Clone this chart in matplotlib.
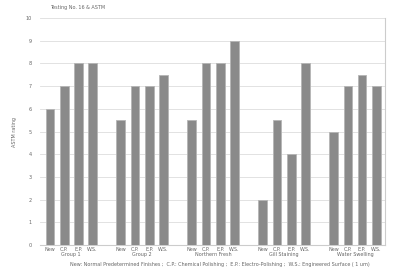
import matplotlib.pyplot as plt
import numpy as np

groups = ['Group 1', 'Group 2', 'Northern Fresh', 'Gill Staining', 'Water Swelling']
finishes = ['New', 'C.P.', 'E.P.', 'W.S.']
ratings = [
    [6, 7, 8, 8],
    [5.5, 7, 7, 7.5],
    [5.5, 8, 8, 9],
    [2, 5.5, 4, 8],
    [5, 7, 7.5, 7],
]
title = 'Testing No. 16 & ASTM'
footnote = ('New: Normal Predetermined Finishes ;  C.P.: Chemical Polishing ;  '
            'E.P.: Electro-Polishing ;  W.S.: Engineered Surface ( 1 um)')

fig = plt.figure(figsize=(4.0, 2.68), dpi=100)
ax = fig.add_axes([0.10, 0.085, 0.862, 0.848])

xs, vals, labels = [], [], []
for g, row in enumerate(ratings):
    for k, v in enumerate(row):
        xs.append(g * 5 + k)
        vals.append(v)
        labels.append(finishes[k])

ax.bar(xs, vals, width=0.62, color='#8a8a8a', edgecolor='#b5b5b5', linewidth=0.6, zorder=3)

ax.set_ylim(0, 10)
ax.set_xlim(-0.7, 23.6)
ax.set_yticks(range(0, 11))
ax.yaxis.grid(True, color='#dddddd', linewidth=0.6, zorder=0)
ax.set_xticks(xs)
ax.set_xticklabels(labels, fontsize=3.5, color='#666666')
ax.tick_params(axis='y', labelsize=3.5, colors='#666666', length=0, pad=6)
ax.tick_params(axis='x', length=0, pad=1.5)
for s in ['top', 'left']:
    ax.spines[s].set_visible(False)
ax.spines['right'].set_color('#cccccc')
ax.spines['bottom'].set_color('#cccccc')
ax.set_ylabel('ASTM rating', fontsize=3.5, color='#666666', labelpad=6)

for g, name in enumerate(groups):
    ax.text(g * 5 + 1.5, -0.3, name, ha='center', va='top', fontsize=3.5,
            color='#666666', clip_on=False)

fig.text(0.125, 0.965, title, fontsize=3.5, color='#666666')
fig.text(0.55, 0.008, footnote, fontsize=3.5, color='#666666', ha='center')

fig.savefig('out.png', dpi=100)
